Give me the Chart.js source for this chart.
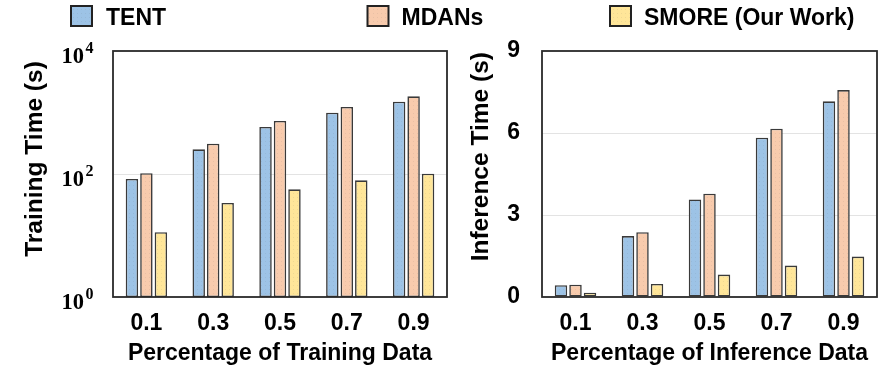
<!DOCTYPE html>
<html>
<head>
<meta charset="utf-8">
<script src="https://cdn.jsdelivr.net/npm/chart.js@4"></script>
<style>
  html, body { margin: 0; padding: 0; background: #fff; }
  #wrap { position: relative; width: 889px; height: 374px; overflow: hidden; }
  #trainCanvas { position: absolute; left: 0; top: 0; }
  #inferCanvas { position: absolute; left: 450px; top: 0; }
</style>
</head>
<body>
<div id="wrap">
  <canvas id="trainCanvas" width="889" height="374"></canvas>
  <canvas id="inferCanvas" width="439" height="374"></canvas>
</div>
<script>
// ---- data ----
const fractions = ['0.1', '0.3', '0.5', '0.7', '0.9'];
const seriesNames = ['TENT', 'MDANs', 'SMORE (Our Work)'];

// training time in seconds (log axis)
const trainTent  = [83, 252, 581, 993, 1500];
const trainMdan  = [103, 311, 727, 1228, 1834];
const trainSmore = [11.3, 33.8, 56.4, 78.9, 101];

// inference time in seconds
const inferTent  = [0.43, 2.23, 3.57, 5.83, 7.16];
const inferMdan  = [0.45, 2.37, 3.78, 6.16, 7.57];
const inferSmore = [0.16, 0.48, 0.82, 1.15, 1.48];

const trainTicks = [1, 100, 10000];
const trainTickBase = ['10', '10', '10'];
const trainTickExp = ['0', '2', '4'];
const inferTicks = [0, 3, 6, 9];

const xTitles = ['Percentage of Training Data', 'Percentage of Inference Data'];
const yTitles = ['Training Time (s)', 'Inference Time (s)'];

// ---- styling ----
const SANS = '"Liberation Sans", Arial, Helvetica, sans-serif';
const SERIF = '"Liberation Serif", "Times New Roman", serif';
const fillColors = ['#9DC3E6', '#F8CBAD', '#FFE699'];
const edgeColor = '#3a3a3a';

// faint stipple texture used inside the bars
function stipple(color) {
  const c = document.createElement('canvas');
  c.width = 4; c.height = 4;
  const g = c.getContext('2d');
  g.fillStyle = color;
  g.fillRect(0, 0, 4, 4);
  g.fillStyle = 'rgba(90,90,90,0.09)';
  g.fillRect(1, 1, 1, 1);
  return g.createPattern(c, 'repeat');
}
const fills = fillColors.map(stipple);

function makeDatasets(series) {
  return series.map((values, i) => ({
    label: seriesNames[i],
    data: values,
    backgroundColor: fills[i],
    borderColor: edgeColor,
    borderWidth: 1.6,
    borderSkipped: false,
    categoryPercentage: 0.65,
    barPercentage: 0.86
  }));
}

// frame around the plotting area
const framePlugin = {
  id: 'frame',
  afterDatasetsDraw(chart) {
    const { ctx, chartArea: a } = chart;
    ctx.save();
    ctx.strokeStyle = '#2a2a2a';
    ctx.lineWidth = 1.8;
    ctx.strokeRect(a.left, a.top, a.right - a.left, a.bottom - a.top);
    ctx.restore();
  }
};

// axis titles: x centred under the plot, y rotated
const axisTitlePlugin = {
  id: 'axisTitles',
  afterDraw(chart, args, opts) {
    const { ctx, chartArea: a } = chart;
    ctx.save();
    ctx.fillStyle = '#000';
    ctx.textAlign = 'center';
    ctx.textBaseline = 'alphabetic';
    ctx.font = 'bold 23px ' + SANS;
    ctx.fillText(opts.x, (a.left + a.right) / 2, opts.xBaseline);
    ctx.translate(opts.yBaseline, opts.yCenter);
    ctx.rotate(-Math.PI / 2);
    ctx.font = 'bold 24.5px ' + SANS;
    ctx.fillText(opts.y, 0, 0);
    ctx.restore();
  }
};

// series key across the top of the figure
const keyPlugin = {
  id: 'seriesKey',
  afterDraw(chart, args, opts) {
    const { ctx } = chart;
    ctx.save();
    ctx.font = 'bold 23px ' + SANS;
    ctx.textAlign = 'left';
    ctx.textBaseline = 'alphabetic';
    chart.data.datasets.forEach((ds, i) => {
      const x = opts.boxX[i];
      ctx.fillStyle = ds.backgroundColor;
      ctx.fillRect(x, 6, 21, 20);
      ctx.strokeStyle = '#222';
      ctx.lineWidth = 2;
      ctx.strokeRect(x, 6, 21, 20);
      ctx.fillStyle = '#000';
      ctx.fillText(ds.label, x + opts.textGap[i], 25);
    });
    ctx.restore();
  }
};

// power-of-ten labels for the log axis
const powerLabelPlugin = {
  id: 'powerLabels',
  afterDraw(chart) {
    const { ctx } = chart;
    const s = chart.scales.y;
    ctx.save();
    ctx.fillStyle = '#000';
    ctx.textAlign = 'left';
    ctx.textBaseline = 'alphabetic';
    trainTicks.forEach((v, i) => {
      const y = s.getPixelForValue(v);
      ctx.font = 'bold 22.5px ' + SERIF;
      ctx.fillText(trainTickBase[i], 61.5, y + 11.5);
      const w = ctx.measureText(trainTickBase[i]).width;
      ctx.font = 'bold 16px ' + SERIF;
      ctx.fillText(trainTickExp[i], 61.5 + w + 1.5, y + 1.5);
    });
    ctx.restore();
  }
};

function innerGrid(c) {
  const sc = c.scale;
  if (!c.tick) return 'rgba(0,0,0,0)';
  return (c.tick.value > sc.min && c.tick.value < sc.max) ? '#e3e3e3' : 'rgba(0,0,0,0)';
}

const xScale = {
  type: 'category',
  grid: { display: false, drawTicks: false },
  border: { display: false },
  ticks: { color: '#000', font: { family: SANS, size: 23, weight: 'bold' }, padding: 13, maxRotation: 0 },
  afterFit(s) { s.height = 77; }
};

new Chart(document.getElementById('trainCanvas'), {
  type: 'bar',
  data: { labels: fractions, datasets: makeDatasets([trainTent, trainMdan, trainSmore]) },
  options: {
    responsive: false,
    animation: false,
    events: [],
    layout: { padding: { top: 51, right: 442, left: 0, bottom: 0 } },
    plugins: {
      legend: { display: false },
      tooltip: { enabled: false },
      axisTitles: { x: xTitles[0], y: yTitles[0], xBaseline: 359.5, yBaseline: 42, yCenter: 159 },
      seriesKey: { boxX: [71, 367.5, 610], textGap: [35, 34, 34] }
    },
    scales: {
      x: xScale,
      y: {
        type: 'logarithmic',
        min: 1,
        max: 10000,
        afterBuildTicks(s) { s.ticks = trainTicks.map(v => ({ value: v })); },
        ticks: { display: false },
        grid: { color: innerGrid, lineWidth: 1, drawTicks: false },
        border: { display: false },
        afterFit(s) { s.width = 113; }
      }
    }
  },
  plugins: [framePlugin, axisTitlePlugin, keyPlugin, powerLabelPlugin]
});

new Chart(document.getElementById('inferCanvas'), {
  type: 'bar',
  data: { labels: fractions, datasets: makeDatasets([inferTent, inferMdan, inferSmore]) },
  options: {
    responsive: false,
    animation: false,
    events: [],
    layout: { padding: { top: 51, right: 12, left: 0, bottom: 0 } },
    plugins: {
      legend: { display: false },
      tooltip: { enabled: false },
      axisTitles: { x: xTitles[1], y: yTitles[1], xBaseline: 359.5, yBaseline: 38, yCenter: 156.7 }
    },
    scales: {
      x: xScale,
      y: {
        type: 'linear',
        min: 0,
        max: 9,
        afterBuildTicks(s) { s.ticks = inferTicks.map(v => ({ value: v })); },
        ticks: { color: '#000', font: { family: SANS, size: 23, weight: 'bold' }, padding: 22 },
        grid: { color: innerGrid, lineWidth: 1, drawTicks: false },
        border: { display: false },
        afterFit(s) { s.width = 92; }
      }
    }
  },
  plugins: [framePlugin, axisTitlePlugin]
});
</script>
</body>
</html>
